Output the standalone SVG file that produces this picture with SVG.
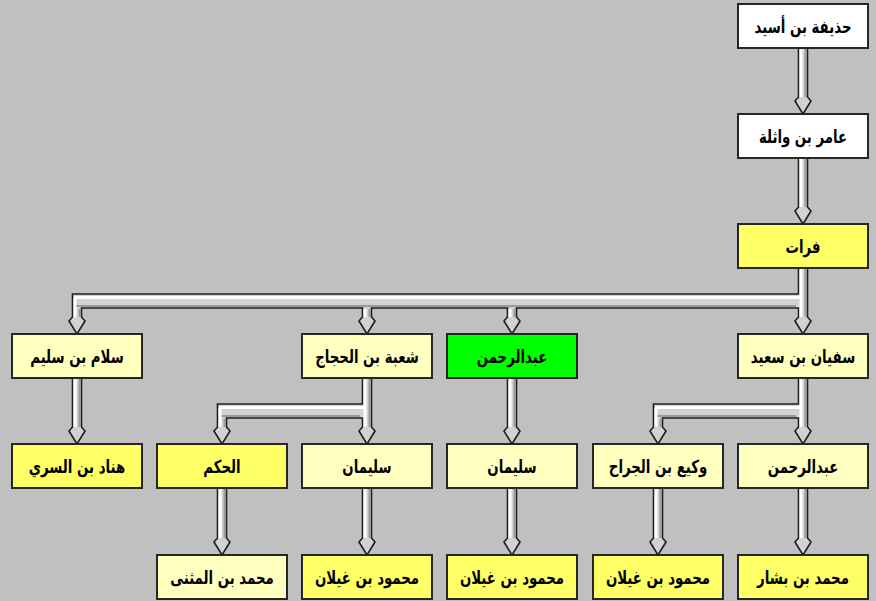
<svg xmlns="http://www.w3.org/2000/svg" width="876" height="601" viewBox="0 0 876 601">
<style>
.bg{fill:#C0C0C0}
.box{stroke:#262626;stroke-width:2}
.w{fill:#FFFFFF}
.ly{fill:#FFFFC0}
.y{fill:#FFFF66}
.g{fill:#00FF00}
.t{font-family:"DejaVu Sans",sans-serif;font-weight:bold;font-size:18px;fill:#000;text-anchor:middle}
.pipe{fill:#D2D2D2;stroke:#1E1E1E;stroke-width:1.6;stroke-linejoin:miter}
.hl{stroke:#FFFFFF;stroke-width:3;fill:none}
.sh{stroke:#9A9A9A;stroke-width:2;fill:none}
</style>
<rect class="bg" x="0" y="0" width="876" height="601"/>
<g id="connectors">
<path class="pipe" d="M798.5,48 H807.5 V97 L811,101 L803,114 L795,101 L798.5,97 Z"/>
<path class="pipe" d="M798.5,158 H807.5 V207 L811,211 L803,224 L795,211 L798.5,207 Z"/>
<path class="pipe" d="M798.5,268 H807.5 V317 L811,321 L803,334 L795,321 L798.5,317 V308 H516.5 V317 L520,321 L512,334 L504,321 L507.5,317 V308 H371.5 V317 L375,321 L367,334 L359,321 L362.5,317 V308 H81.5 V317 L85,321 L77,334 L69,321 L72.5,317 V294 H798.5 Z"/>
<path class="pipe" d="M72.5,378 H81.5 V427 L85,431 L77,444 L69,431 L72.5,427 Z"/>
<path class="pipe" d="M362.5,378 H371.5 V427 L375,431 L367,444 L359,431 L362.5,427 V418 H226.5 V427 L230,431 L222,444 L214,431 L217.5,427 V404 H362.5 Z"/>
<path class="pipe" d="M507.5,378 H516.5 V427 L520,431 L512,444 L504,431 L507.5,427 Z"/>
<path class="pipe" d="M798.5,378 H807.5 V427 L811,431 L803,444 L795,431 L798.5,427 V418 H662.5 V427 L666,431 L658,444 L650,431 L653.5,427 V404 H798.5 Z"/>
<path class="pipe" d="M217.5,488 H226.5 V538 L230,542 L222,555 L214,542 L217.5,538 Z"/>
<path class="pipe" d="M362.5,488 H371.5 V538 L375,542 L367,555 L359,542 L362.5,538 Z"/>
<path class="pipe" d="M507.5,488 H516.5 V538 L520,542 L512,555 L504,542 L507.5,538 Z"/>
<path class="pipe" d="M653.5,488 H662.5 V538 L666,542 L658,555 L650,542 L653.5,538 Z"/>
<path class="pipe" d="M798.5,488 H807.5 V538 L811,542 L803,555 L795,542 L798.5,538 Z"/>
<path class="sh" d="M805.5,49 V97 M805.5,159 V207 M805.5,269 V317 M805.5,379 V427 M79.5,379 V427 M369.5,379 V427 M514.5,379 V427 M224.5,489 V538 M369.5,489 V538 M514.5,489 V538 M660.5,489 V538 M805.5,489 V538 M75,306 H796 M220,416 H360 M656,416 H796 M79.5,309 V317 M369.5,309 V317 M514.5,309 V317 M224.5,419 V427 M660.5,419 V427"/>
<path class="hl" d="M801,49 V97 M801,159 V207 M801,269 V317 M801,379 V427 M75,379 V427 M365,379 V427 M510,379 V427 M220,489 V538 M365,489 V538 M510,489 V538 M656,489 V538 M801,489 V538 M74,297.5 H801 M219,407.5 H365 M655,407.5 H801 M75,298 V317 M365,309 V317 M510,309 V317 M220,408 V427 M656,408 V427"/>
</g>
<g id="n1"><rect class="box w" x="738" y="4" width="130" height="44"/><text class="t" transform="translate(803,33) scale(0.74,1)">حذيفة بن أسيد</text></g>
<g id="n2"><rect class="box w" x="738" y="114" width="130" height="44"/><text class="t" transform="translate(803,143) scale(0.74,1)">عامر بن واثلة</text></g>
<g id="n3"><rect class="box y" x="738" y="224" width="130" height="44"/><text class="t" transform="translate(803,253) scale(0.74,1)">فرات</text></g>
<g id="n4"><rect class="box ly" x="12" y="334" width="130" height="44"/><text class="t" transform="translate(77,363) scale(0.74,1)">سلام بن سليم</text></g>
<g id="n5"><rect class="box ly" x="302" y="334" width="130" height="44"/><text class="t" transform="translate(367,363) scale(0.74,1)">شعبة بن الحجاج</text></g>
<g id="n6"><rect class="box g" x="447" y="334" width="130" height="44"/><text class="t" transform="translate(512,363) scale(0.74,1)">عبدالرحمن</text></g>
<g id="n7"><rect class="box ly" x="738" y="334" width="130" height="44"/><text class="t" transform="translate(803,363) scale(0.74,1)">سفيان بن سعيد</text></g>
<g id="n8"><rect class="box y" x="12" y="444" width="130" height="44"/><text class="t" transform="translate(77,473) scale(0.74,1)">هناد بن السري</text></g>
<g id="n9"><rect class="box y" x="157" y="444" width="130" height="44"/><text class="t" transform="translate(222,473) scale(0.74,1)">الحكم</text></g>
<g id="n10"><rect class="box ly" x="302" y="444" width="130" height="44"/><text class="t" transform="translate(367,473) scale(0.74,1)">سليمان</text></g>
<g id="n11"><rect class="box ly" x="447" y="444" width="130" height="44"/><text class="t" transform="translate(512,473) scale(0.74,1)">سليمان</text></g>
<g id="n12"><rect class="box ly" x="593" y="444" width="130" height="44"/><text class="t" transform="translate(658,473) scale(0.74,1)">وكيع بن الجراح</text></g>
<g id="n13"><rect class="box ly" x="738" y="444" width="130" height="44"/><text class="t" transform="translate(803,473) scale(0.74,1)">عبدالرحمن</text></g>
<g id="n14"><rect class="box ly" x="157" y="555" width="130" height="44"/><text class="t" transform="translate(222,584) scale(0.74,1)">محمد بن المثنى</text></g>
<g id="n15"><rect class="box y" x="302" y="555" width="130" height="44"/><text class="t" transform="translate(367,584) scale(0.74,1)">محمود بن غيلان</text></g>
<g id="n16"><rect class="box y" x="447" y="555" width="130" height="44"/><text class="t" transform="translate(512,584) scale(0.74,1)">محمود بن غيلان</text></g>
<g id="n17"><rect class="box y" x="593" y="555" width="130" height="44"/><text class="t" transform="translate(658,584) scale(0.74,1)">محمود بن غيلان</text></g>
<g id="n18"><rect class="box y" x="738" y="555" width="130" height="44"/><text class="t" transform="translate(803,584) scale(0.74,1)">محمد بن بشار</text></g>
</svg>
